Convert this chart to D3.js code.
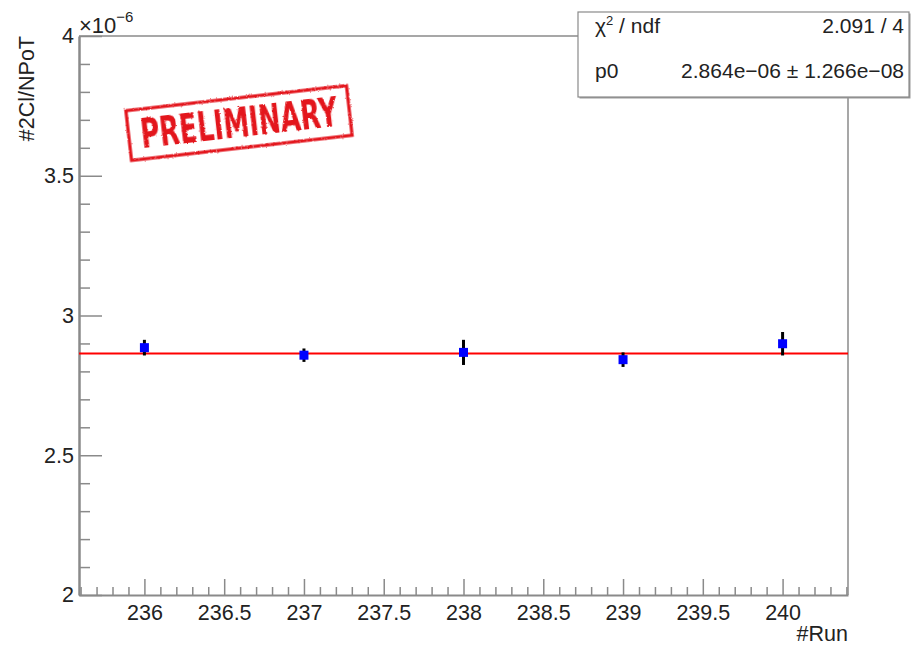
<!DOCTYPE html>
<html><head><meta charset="utf-8">
<script src="https://cdn.jsdelivr.net/npm/d3@7"></script>
<style>
body{margin:0;background:#fff}
svg{display:block}
text{font-family:"Liberation Sans",Arial,Helvetica,sans-serif;fill:#222}
</style>
</head><body>
<svg id="chart" width="920" height="645"></svg>
<script>
// Ratio of 2-cluster events per proton on target, one point per run (units of 1e-6)
const runs = [236, 237, 238, 239, 240];
const ratio = [2.885, 2.858, 2.868, 2.842, 2.899];
const ratioErr = [0.028, 0.024, 0.045, 0.026, 0.042];

// Constant fit (pol0) result
const fitP0 = 2.864;
const statLabels = ["chi2", "p0"];
const statValues = ["2.091 / 4", "2.864e\u221206 \u00b1 1.266e\u221208"];

// Axis ticks
const xMajorTicks = [236, 236.5, 237, 237.5, 238, 238.5, 239, 239.5, 240];
const yMajorTicks = [2, 2.5, 3, 3.5, 4];
const xDomain = [235.59, 240.41];
const yDomain = [2, 4];

const frame = {left: 79, right: 848, top: 36, bottom: 595};
const axisGrey = "#8a8a8a";

const svg = d3.select("#chart");
const x = d3.scaleLinear().domain(xDomain).range([frame.left, frame.right]);
const y = d3.scaleLinear().domain(yDomain).range([frame.bottom, frame.top]);

const xMinor = d3.range(Math.ceil(xDomain[0] * 10), Math.floor(xDomain[1] * 10) + 1)
  .map(v => v / 10).filter(v => !xMajorTicks.some(m => Math.abs(m - v) < 1e-6));
const yMinor = d3.range(20, 41).map(v => v / 10)
  .filter(v => !yMajorTicks.some(m => Math.abs(m - v) < 1e-6));
const fmt = d => (Math.abs(d - Math.round(d)) < 1e-9 ? d3.format("d")(d) : d3.format(".1f")(d));

// Frame: top and right edges
svg.append("path")
  .attr("d", `M${frame.left},${frame.top}H${frame.right}V${frame.bottom}`)
  .attr("fill", "none").attr("stroke", axisGrey).attr("stroke-width", 1.5);

// X axis (ticks point inward)
const gx = svg.append("g").attr("transform", `translate(0,${frame.bottom})`);
gx.call(d3.axisBottom(x).tickValues(xMajorTicks).tickFormat(fmt).tickSizeInner(-16).tickSizeOuter(0).tickPadding(10));
gx.append("g").call(d3.axisBottom(x).tickValues(xMinor).tickFormat("").tickSizeInner(-8).tickSizeOuter(0))
  .select(".domain").remove();
gx.selectAll(".domain").attr("stroke", axisGrey).attr("stroke-width", 2);
gx.selectAll(".tick line").attr("stroke", axisGrey).attr("stroke-width", 1.5);
gx.selectAll(".tick text").attr("font-size", 21.5).attr("fill", "#222")
  .style("font-family", '"Liberation Sans",Arial,sans-serif');

// Y axis (ticks point inward)
const gy = svg.append("g").attr("transform", `translate(${frame.left},0)`);
gy.call(d3.axisLeft(y).tickValues(yMajorTicks).tickFormat(fmt).tickSizeInner(-23).tickSizeOuter(0).tickPadding(5));
gy.append("g").call(d3.axisLeft(y).tickValues(yMinor).tickFormat("").tickSizeInner(-11).tickSizeOuter(0))
  .select(".domain").remove();
gy.selectAll(".domain").attr("stroke", axisGrey).attr("stroke-width", 2.5);
gy.selectAll(".tick line").attr("stroke", axisGrey).attr("stroke-width", 1.5);
gy.selectAll(".tick text").attr("font-size", 21.5).attr("fill", "#222")
  .style("font-family", '"Liberation Sans",Arial,sans-serif');

// Exponent above the y axis
const expo = svg.append("text").attr("x", frame.left).attr("y", 33).attr("font-size", 22);
expo.append("tspan").text("\u00d710");
expo.append("tspan").attr("dy", -11).attr("font-size", 15).text("\u22126");

// Axis titles
svg.append("text").attr("transform", `translate(34,${frame.top}) rotate(-90)`)
  .attr("text-anchor", "end").attr("font-size", 21.5).text("#2Cl/NPoT");
svg.append("text").attr("x", frame.right).attr("y", 641)
  .attr("text-anchor", "end").attr("font-size", 21.5).text("#Run");

// PRELIMINARY stamp
const defs = svg.append("defs");
const f = defs.append("filter").attr("id", "worn").attr("x", "-10%").attr("y", "-30%").attr("width", "120%").attr("height", "160%");
f.append("feTurbulence").attr("type", "fractalNoise").attr("baseFrequency", 0.9).attr("numOctaves", 2).attr("seed", 4).attr("result", "noise");
f.append("feDisplacementMap").attr("in", "SourceGraphic").attr("in2", "noise").attr("scale", 2.5).attr("result", "disp");
f.append("feGaussianBlur").attr("in", "disp").attr("stdDeviation", 0.5);

const stamp = svg.append("g").attr("transform", "translate(239,123) rotate(-6.5)").attr("filter", "url(#worn)");
stamp.append("rect").attr("x", -111).attr("y", -25).attr("width", 222).attr("height", 50)
  .attr("fill", "none").attr("stroke", "#e3141b").attr("stroke-width", 3.2);
stamp.append("text").attr("x", 0).attr("y", 14).attr("text-anchor", "middle")
  .attr("font-size", 41).attr("font-weight", "bold").attr("textLength", 198).attr("lengthAdjust", "spacingAndGlyphs")
  .style("font-family", '"Liberation Sans Narrow","DejaVu Sans Condensed","Liberation Sans",sans-serif')
  .style("fill", "#e3141b").text("PRELIMINARY");

// Fit line
svg.append("line")
  .attr("x1", x(xDomain[0])).attr("x2", x(xDomain[1]))
  .attr("y1", y(fitP0)).attr("y2", y(fitP0))
  .attr("stroke", "#ff0000").attr("stroke-width", 2);

// Data: error bars and markers
const pts = runs.map((r, i) => ({r, v: ratio[i], e: ratioErr[i]}));
svg.append("g").selectAll("line").data(pts).join("line")
  .attr("x1", d => x(d.r)).attr("x2", d => x(d.r))
  .attr("y1", d => y(d.v - d.e)).attr("y2", d => y(d.v + d.e))
  .attr("stroke", "#000").attr("stroke-width", 3);
svg.append("g").selectAll("rect").data(pts).join("rect")
  .attr("x", d => x(d.r) - 4.5).attr("y", d => y(d.v) - 4.5)
  .attr("width", 9).attr("height", 9).attr("fill", "#0000ff");

// Fit statistics box
const box = {x: 578, y: 12, w: 331, h: 85};
svg.append("rect").attr("x", box.x + 1.5).attr("y", box.y + 1.5).attr("width", box.w).attr("height", box.h)
  .attr("fill", "#9a9a9a");
svg.append("rect").attr("x", box.x).attr("y", box.y).attr("width", box.w).attr("height", box.h)
  .attr("fill", "#fff").attr("stroke", "#8a8a8a").attr("stroke-width", 1.2);
const rowY = [33, 78];
statLabels.forEach((lab, i) => {
  const t = svg.append("text").attr("x", box.x + 17).attr("y", rowY[i]).attr("font-size", 21);
  if (lab === "chi2") {
    t.append("tspan").text("\u03c7");
    t.append("tspan").attr("dy", -8).attr("font-size", 13).text("2");
    t.append("tspan").attr("dy", 8).text(" / ndf");
  } else {
    t.text(lab);
  }
  svg.append("text").attr("x", box.x + box.w - 5).attr("y", rowY[i])
    .attr("text-anchor", "end").attr("font-size", 21).text(statValues[i]);
});
</script>
</body></html>
